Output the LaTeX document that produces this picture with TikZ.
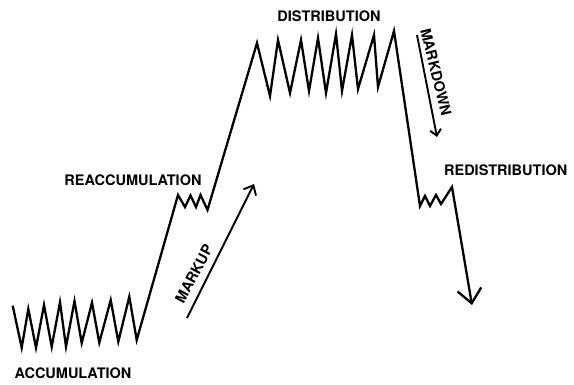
\documentclass[tikz,border=0pt]{standalone}
\usepackage{fontspec}
\setmainfont{TeX Gyre Heros}
\usetikzlibrary{arrows.meta}
\begin{document}
\begin{tikzpicture}[x=1pt,y=-1pt,
  curve/.style={line width=2.3pt, line join=miter, miter limit=20},
  thinarrow/.style={line width=1.9pt},
  lbl/.style={font=\bfseries\fontsize{14.5}{17}\selectfont, inner sep=0pt}]
\useasboundingbox (0,0) rectangle (574,384);
% key points of the price curve
\coordinate (accA) at (12.7,305.7);
\coordinate (accB) at (136.7,340);
\coordinate (reaA) at (178,195);
\coordinate (reaB) at (207.5,210);
\coordinate (disA) at (257,43);
\coordinate (disB) at (394,31);
\coordinate (redA) at (420,206);
\coordinate (redB) at (452,187);
\coordinate (endP) at (472,305);
\draw[curve, -{Straight Barb[length=14pt,width=24pt]}]
  (accA) -- (21.7,347.7) -- (28.3,309) -- (36,347.7) -- (44,305) -- (51.7,346.7)
  -- (60,302.3) -- (66,346.7) -- (74.5,301) -- (81.7,343) -- (92,302.7)
  -- (99.3,342.7) -- (110.7,300) -- (118.3,341.7) -- (129.3,296.7) -- (accB)
  -- (reaA) -- (185,207) -- (190.5,195.5) -- (196,207) -- (200.5,195) -- (reaB)
  -- (disA) -- (270,96) -- (278,40) -- (290,93) -- (301,40) -- (309,91)
  -- (318,38) -- (326,93) -- (336,34) -- (342,91) -- (352,35) -- (358,89)
  -- (374,35) -- (378,87) -- (disB)
  -- (redA) -- (425,196) -- (430,206) -- (436,195) -- (441,204) -- (redB)
  -- (endP);
% markup / markdown arrows
\coordinate (muA) at (187,318);
\coordinate (muB) at (254,184);
\coordinate (mdA) at (417,35);
\coordinate (mdB) at (437,137);
\draw[thinarrow, -{Straight Barb[length=8pt,width=14pt]}] (muA) -- (muB);
\draw[thinarrow, -{Straight Barb[length=6pt,width=11pt]}] (mdA) -- (mdB);
% labels
\node[lbl] (acc) at (73,373) {ACCUMULATION};
\node[lbl] (rea) at (133,180) {REACCUMULATION};
\node[lbl] (dis) at (329,16.7) {DISTRIBUTION};
\node[lbl] (red) at (505.7,170) {REDISTRIBUTION};
\node[lbl, rotate=62] (mu) at (194,274) {MARKUP};
\node[lbl, rotate=-76] (md) at (436,72) {MARKDOWN};
\end{tikzpicture}
\end{document}
